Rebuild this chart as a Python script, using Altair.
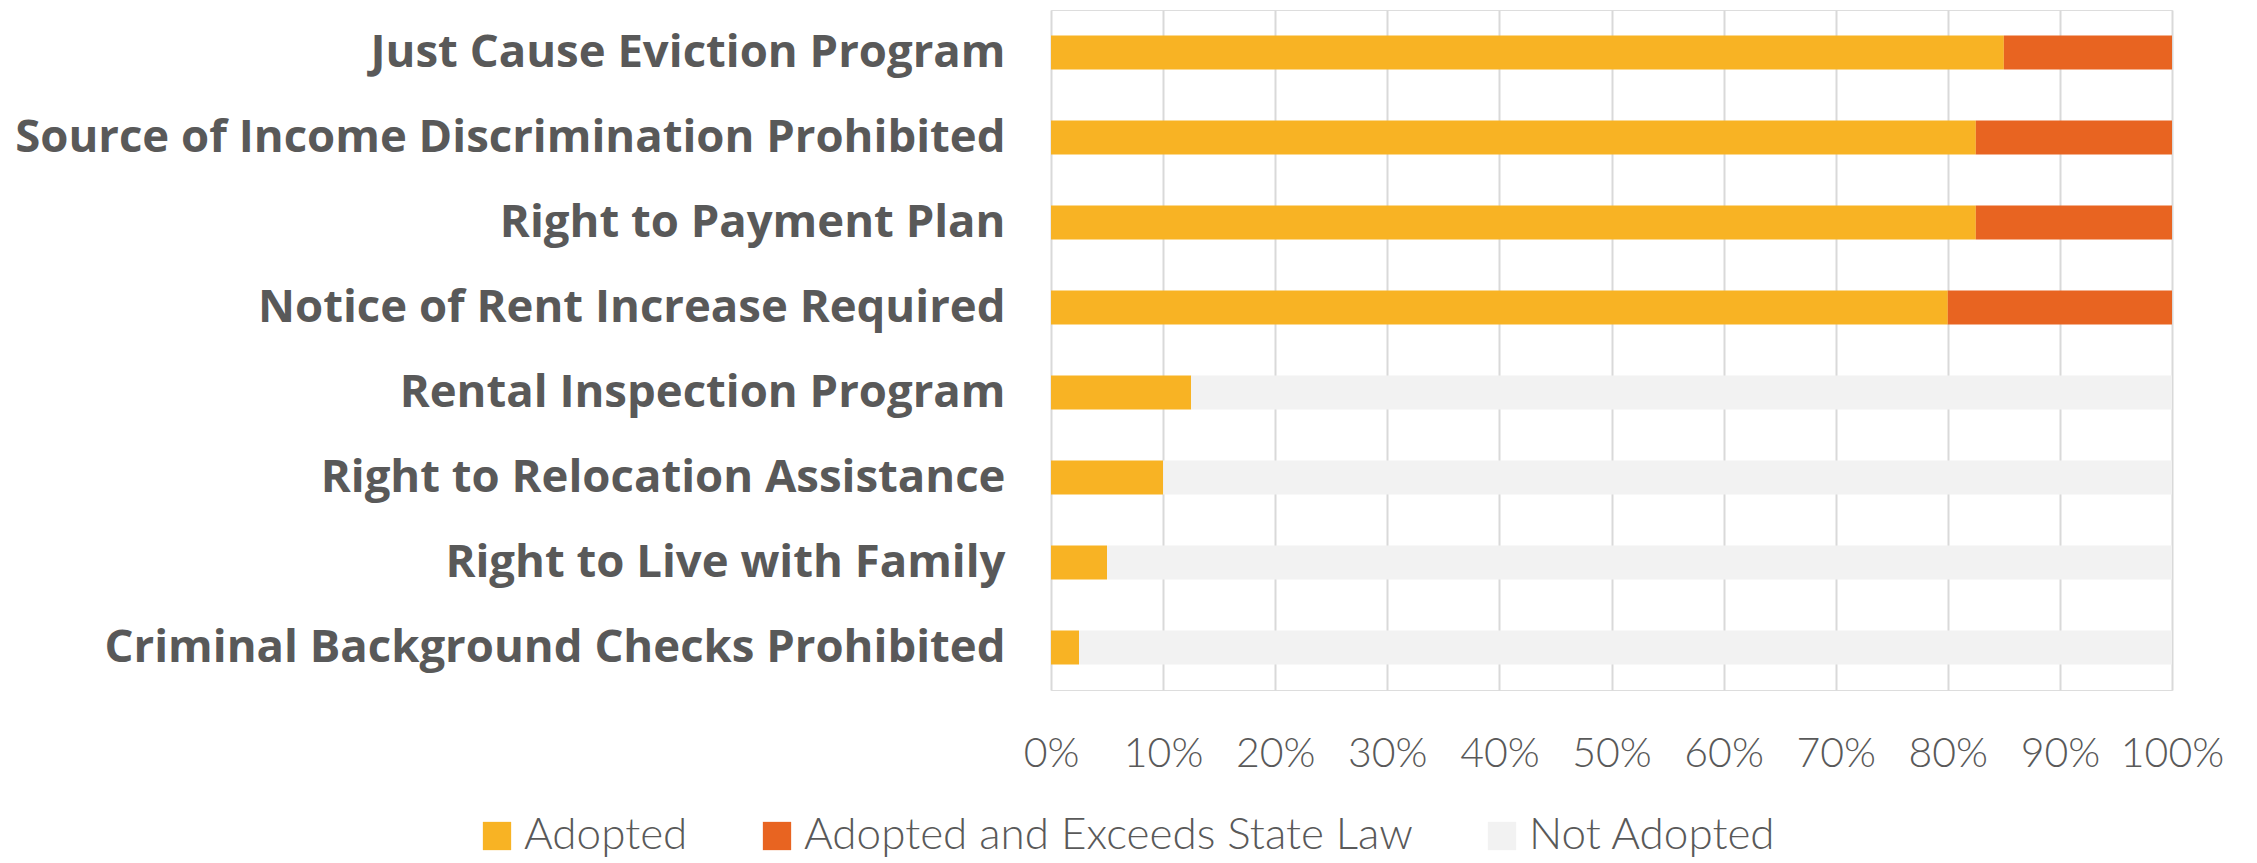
import altair as alt
import pandas as pd

categories = [
    "Just Cause Eviction Program",
    "Source of Income Discrimination Prohibited",
    "Right to Payment Plan",
    "Notice of Rent Increase Required",
    "Rental Inspection Program",
    "Right to Relocation Assistance",
    "Right to Live with Family",
    "Criminal Background Checks Prohibited",
]
adopted = [0.85, 0.825, 0.825, 0.80, 0.125, 0.10, 0.05, 0.025]
exceeds = [0.15, 0.175, 0.175, 0.20, 0.0, 0.0, 0.0, 0.0]
not_adopted = [0.0, 0.0, 0.0, 0.0, 0.875, 0.90, 0.95, 0.975]

series = ["Adopted", "Adopted and Exceeds State Law", "Not Adopted"]
colors = ["#F8B324", "#E86421", "#F2F2F2"]

rows = []
for i, c in enumerate(categories):
    for k, (s, vals) in enumerate(zip(series, [adopted, exceeds, not_adopted])):
        rows.append({"category": c, "status": s, "value": vals[i], "order": k})
df = pd.DataFrame(rows)

chart = (
    alt.Chart(df)
    .mark_bar()
    .encode(
        y=alt.Y(
            "category:N",
            sort=categories,
            title=None,
            scale=alt.Scale(paddingInner=0.6, paddingOuter=0.3),
            axis=alt.Axis(
                domain=False,
                ticks=False,
                grid=False,
                labelFont="Open Sans",
                labelFontWeight="bold",
                labelFontSize=45.5,
                labelColor="#595959",
                labelPadding=46,
                labelLimit=1100,
            ),
        ),
        x=alt.X(
            "value:Q",
            stack="zero",
            title=None,
            scale=alt.Scale(domain=[0, 1], nice=False),
            axis=alt.Axis(
                format=".0%",
                values=[i / 10 for i in range(11)],
                domain=False,
                ticks=False,
                grid=True,
                gridColor="#D9D9D9",
                gridWidth=2,
                labelFont="Lato",
                labelFontWeight=300,
                labelFontSize=41,
                labelColor="#595959",
                labelPadding=44,
                labelOverlap=False,
                labelBound=False,
                labelFlush=False,
            ),
        ),
        color=alt.Color(
            "status:N",
            sort=series,
            scale=alt.Scale(domain=series, range=colors),
            legend=alt.Legend(
                title=None,
                orient="none",
                direction="horizontal",
                legendX=-576,
                legendY=804,
                symbolType="square",
                symbolSize=800,
                symbolStrokeWidth=0,
                labelFont="Lato",
                labelFontWeight=300,
                labelFontSize=44,
                labelColor="#595959",
                labelOffset=5,
                columnPadding=67,
                labelLimit=1000,
            ),
        ),
        order=alt.Order("order:Q"),
    )
    .properties(
        width=1121,
        height=680,
        autosize=alt.AutoSizeParams(type="none"),
        padding={"left": 1051, "top": 10, "right": 85, "bottom": 173},
    )
    .configure_view(stroke=None)
    .configure(background="white")
)

chart.save("out.html", embed_options={"renderer": "svg", "actions": False})
